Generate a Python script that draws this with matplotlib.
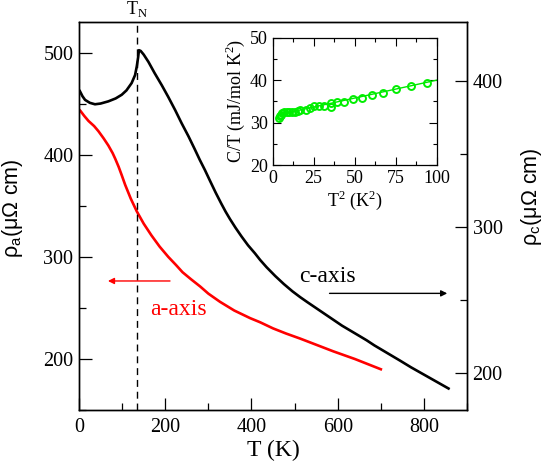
import matplotlib
matplotlib.use("Agg")
import matplotlib.pyplot as plt
from matplotlib.ticker import MultipleLocator

# c-axis resistivity (right axis), T in K
t_c = [2, 8, 14, 25, 37, 50, 68, 85, 99, 110, 122, 130, 134, 137, 139, 143, 150,
       161, 175, 192, 207, 223, 238, 254, 268, 280, 292, 304, 317, 330, 340, 350,
       363, 377, 392, 408, 420, 435, 455, 475, 495, 513, 530, 550, 570, 590, 610,
       630, 650, 667, 685, 705, 725, 745, 770, 800, 830, 857]
rho_c = [393, 389.5, 387, 385, 384, 384.5, 386, 388, 390.5, 393.5, 398.5, 404, 410,
         416, 421, 420.5, 418, 413, 405.5, 397, 389, 380, 371, 362, 353.5, 346, 339,
         331.5, 323.5, 316, 310.5, 305.5, 299.5, 293.5, 287.5, 282, 277.5, 272.5,
         266.5, 261, 256, 252, 248.5, 244.5, 240.5, 236.5, 232.5, 229, 225.5, 222.5,
         219, 215.5, 212, 208.5, 204, 199, 194, 189.5]

# a-axis resistivity (left axis)
t_a = [3, 12, 22, 35, 45, 57, 68, 78, 84, 92, 99, 107, 120, 134, 150, 168, 187, 207,
       225, 240, 260, 281, 300, 327, 360, 397, 420, 450, 480, 513, 550, 590, 640, 670,
       700]
rho_a = [443, 438, 433, 428, 423, 416, 409, 401.5, 396, 388, 380, 370.5, 357, 344.5,
         332.5, 321, 310, 300, 292, 285, 278, 271, 264, 256, 247.5, 240, 236, 230, 225,
         220, 214, 207.5, 200, 195, 190]

t_neel = 135

# inset: specific heat
t2 = [3.9, 4.5, 5.1, 5.5, 6.9, 8.5, 10.1, 11.9, 13.5, 15.2, 16.6, 20.3, 22.8, 25.2,
      28.2, 31.3, 35.4, 35.4, 39.4, 43.7, 49.2, 54.3, 60.4, 67.5, 75.3, 84.2, 94.0]
c_over_t = [31.2, 31.5, 31.9, 32.3, 32.5, 32.5, 32.5, 32.4, 32.6, 32.8, 33.0, 33.0,
            33.4, 33.8, 33.8, 34.0, 34.5, 33.7, 34.8, 34.9, 35.6, 35.9, 36.4, 37.0,
            37.8, 38.6, 39.4]
fit_t2 = [4, 100]
fit_ct = [31.9, 40.0]

serif = "Liberation Serif"
sans = "Liberation Sans"
plt.rcParams["font.family"] = serif

fig = plt.figure(figsize=(5.45, 4.65), dpi=100)
ax = fig.add_axes([0.145, 0.118, 0.712, 0.835])
ax2 = ax.twinx()

ax.plot(t_a, rho_a, color="red", lw=1.9)
ax2.plot(t_c, rho_c, color="black", lw=1.9)
ax.axvline(t_neel, color="black", lw=1.0, ls=(0, (5, 3.5)))

ax.set_xlim(0, 900)
ax.set_ylim(150, 530)
ax2.set_ylim(174.7, 440.4)

ax.xaxis.set_major_locator(MultipleLocator(200))
ax.xaxis.set_minor_locator(MultipleLocator(100))
ax.yaxis.set_major_locator(MultipleLocator(100))
ax.yaxis.set_minor_locator(MultipleLocator(50))
ax2.yaxis.set_major_locator(MultipleLocator(100))
ax2.yaxis.set_minor_locator(MultipleLocator(50))

for a in (ax, ax2):
    a.tick_params(which="major", direction="in", length=9, width=0.9, labelsize=14.5)
    a.tick_params(which="minor", direction="in", length=5, width=0.9)
    for s in a.spines.values():
        s.set_linewidth(1.0)
ax.tick_params(axis="x", pad=6)
ax.tick_params(axis="y", pad=4)
ax2.tick_params(axis="y", pad=4)

ax.set_xlabel("T (K)", fontsize=17, labelpad=2)
ax.set_ylabel(r"ρ$_\mathregular{a}$(μΩ cm)", family=sans, fontsize=15.5)
ax.yaxis.set_label_coords(-0.138, 0.52)
ax2.set_ylabel(r"ρ$_\mathregular{c}$(μΩ cm)", family=sans, fontsize=15.5)
ax2.yaxis.set_label_coords(1.134, 0.55)

ax.text(t_neel, 533, r"T$_\mathregular{N}$", ha="center", va="bottom", fontsize=13)

ax.annotate("", xy=(67, 276.4), xytext=(211, 276.4),
            arrowprops=dict(arrowstyle="-|>", color="red", lw=1.0,
                            mutation_scale=9, shrinkA=0, shrinkB=0))
ax.text(164, 248, "a-axis", color="red", fontsize=17, ha="left", va="center")
ax2.annotate("", xy=(854, 254.6), xytext=(581, 254.6),
             arrowprops=dict(arrowstyle="-|>", color="black", lw=1.0,
                             mutation_scale=9, shrinkA=0, shrinkB=0))
ax2.text(510, 266.4, "c-axis", color="black", fontsize=17, ha="left", va="center")

# inset
ins = fig.add_axes([0.5004, 0.645, 0.301, 0.274])
ins.plot(fit_t2, fit_ct, color="#00e600", lw=1.0)
ins.plot(t2, c_over_t, ls="none", marker="o", ms=5, mfc="none", mec="#00ee00", mew=1.4)
ins.set_xlim(0, 100)
ins.set_ylim(20, 50)
ins.xaxis.set_major_locator(MultipleLocator(25))
ins.xaxis.set_minor_locator(MultipleLocator(12.5))
ins.yaxis.set_major_locator(MultipleLocator(10))
ins.yaxis.set_minor_locator(MultipleLocator(5))
ins.tick_params(which="both", direction="in", top=True, right=True, labelsize=13, width=0.8)
ins.tick_params(which="major", length=6)
ins.tick_params(which="minor", length=3)
for s in ins.spines.values():
    s.set_linewidth(0.9)
ins.set_xlabel(r"T$^\mathregular{2}$ (K$^\mathregular{2}$)", fontsize=13, labelpad=1)
ins.set_ylabel(r"C/T (mJ/mol K$^\mathregular{2}$)", fontsize=13, labelpad=2)

fig.savefig("out.png", dpi=100)
